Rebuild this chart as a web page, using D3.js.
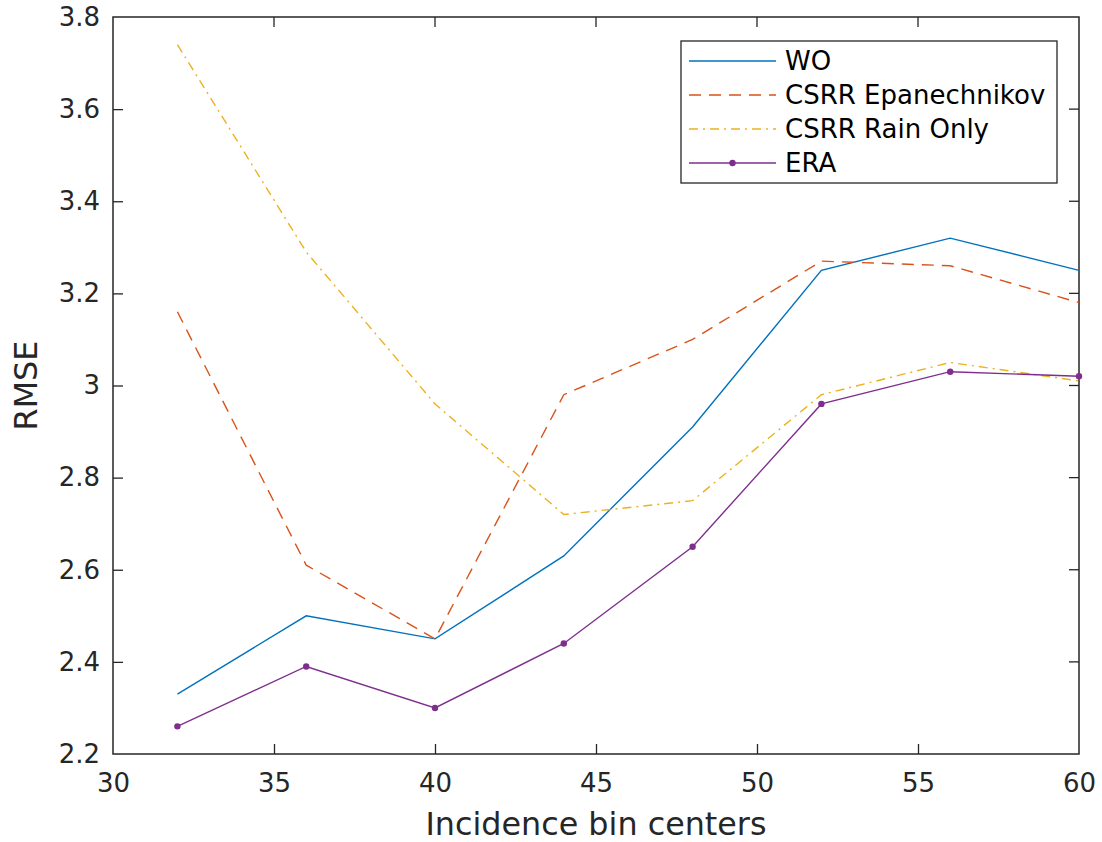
<!DOCTYPE html>
<html>
<head>
<meta charset="utf-8">
<script src="https://cdn.jsdelivr.net/npm/d3@7"></script>
<style>
  body { margin: 0; background: #fff; }
  svg { display: block; font-family: "DejaVu Sans", sans-serif; }
</style>
</head>
<body>
<div id="chart"></div>
<script>
"use strict";

const chtWidth = 1102,
  chtHeight = 842;

const margin = { top: 17, right: 23, bottom: 88, left: 113 };

// Data
const binCenters = [32, 36, 40, 44, 48, 52, 56, 60];
const rmseWO = [2.33, 2.5, 2.45, 2.63, 2.91, 3.25, 3.32, 3.25];
const rmseEpan = [3.16, 2.61, 2.45, 2.98, 3.1, 3.27, 3.26, 3.18];
const rmseRain = [3.74, 3.29, 2.96, 2.72, 2.75, 2.98, 3.05, 3.01];
const rmseERA = [2.26, 2.39, 2.3, 2.44, 2.65, 2.96, 3.03, 3.02];

const xTicks = [30, 35, 40, 45, 50, 55, 60];
const yTicks = [2.2, 2.4, 2.6, 2.8, 3, 3.2, 3.4, 3.6, 3.8];

const seriesNames = ["WO", "CSRR Epanechnikov", "CSRR Rain Only", "ERA"];
const seriesValues = [rmseWO, rmseEpan, rmseRain, rmseERA];
const seriesColors = ["#0072BD", "#D95319", "#EDB120", "#7E2F8E"];
const seriesDash = [null, "12,8", "9,5,2,5", null];
const seriesMarker = [false, false, false, true];

const axisColor = "#262626";

const svg = d3
  .select("#chart")
  .append("svg")
  .attr("width", chtWidth)
  .attr("height", chtHeight);

const x = d3
  .scaleLinear()
  .domain([30, 60])
  .range([margin.left, chtWidth - margin.right]);

const y = d3
  .scaleLinear()
  .domain([2.2, 3.8])
  .range([chtHeight - margin.bottom, margin.top]);

// Axes (ticks pointing inwards, like MATLAB)
const xAxis = svg
  .append("g")
  .attr("transform", `translate(0,${y(2.2)})`)
  .call(d3.axisBottom(x).tickValues(xTicks).tickSizeInner(-10).tickSizeOuter(0).tickPadding(20));

const yAxis = svg
  .append("g")
  .attr("transform", `translate(${x(30)},0)`)
  .call(
    d3
      .axisLeft(y)
      .tickValues(yTicks)
      .tickFormat(d3.format("~g"))
      .tickSizeInner(-10)
      .tickSizeOuter(0)
      .tickPadding(13)
  );

[xAxis, yAxis].forEach((g) => {
  g.selectAll(".domain").remove();
  g.selectAll(".tick line").attr("stroke", axisColor).attr("stroke-width", 1.3);
  g.selectAll(".tick text")
    .attr("fill", axisColor)
    .style("font-size", "26px")
    .style("font-family", "DejaVu Sans, sans-serif");
});
// hide edge tick marks that coincide with the box
xAxis.selectAll(".tick line").filter((d) => d === 30 || d === 60).remove();
yAxis.selectAll(".tick line").filter((d) => d === 2.2 || d === 3.8).remove();

// Right-side ticks
svg
  .append("g")
  .selectAll("line")
  .data(yTicks.slice(1, -1))
  .join("line")
  .attr("x1", x(60))
  .attr("x2", x(60) - 10)
  .attr("y1", (d) => y(d))
  .attr("y2", (d) => y(d))
  .attr("stroke", axisColor)
  .attr("stroke-width", 1.3);

// Top ticks
svg
  .append("g")
  .selectAll("line")
  .data(xTicks.slice(1, -1))
  .join("line")
  .attr("x1", (d) => x(d))
  .attr("x2", (d) => x(d))
  .attr("y1", y(3.8))
  .attr("y2", y(3.8) + 10)
  .attr("stroke", axisColor)
  .attr("stroke-width", 1.3);

// Box
svg
  .append("rect")
  .attr("x", x(30))
  .attr("y", y(3.8))
  .attr("width", x(60) - x(30))
  .attr("height", y(2.2) - y(3.8))
  .attr("fill", "none")
  .attr("stroke", axisColor)
  .attr("stroke-width", 1.5);

// Axis labels
svg
  .append("text")
  .attr("x", (x(30) + x(60)) / 2)
  .attr("y", 835)
  .attr("text-anchor", "middle")
  .attr("fill", axisColor)
  .style("font-size", "31.8px")
  .text("Incidence bin centers");

svg
  .append("text")
  .attr("transform", `translate(37,${(y(2.2) + y(3.8)) / 2}) rotate(-90)`)
  .attr("text-anchor", "middle")
  .attr("fill", axisColor)
  .style("font-size", "31.8px")
  .text("RMSE");

// Lines
const line = d3
  .line()
  .x((d, i) => x(binCenters[i]))
  .y((d) => y(d));

seriesValues.forEach((vals, k) => {
  svg
    .append("path")
    .datum(vals)
    .attr("d", line)
    .attr("fill", "none")
    .attr("stroke", seriesColors[k])
    .attr("stroke-width", 1.4)
    .attr("stroke-dasharray", seriesDash[k]);

  if (seriesMarker[k]) {
    svg
      .append("g")
      .selectAll("circle")
      .data(vals)
      .join("circle")
      .attr("cx", (d, i) => x(binCenters[i]))
      .attr("cy", (d) => y(d))
      .attr("r", 3.2)
      .attr("fill", seriesColors[k]);
  }
});

// Legend
const legend = svg.append("g").attr("transform", "translate(681,41)");

legend
  .append("rect")
  .attr("width", 376)
  .attr("height", 142)
  .attr("fill", "#fff")
  .attr("stroke", axisColor)
  .attr("stroke-width", 1.3);

seriesNames.forEach((name, k) => {
  const ly = 20 + k * 34;
  legend
    .append("line")
    .attr("x1", 8)
    .attr("x2", 95)
    .attr("y1", ly)
    .attr("y2", ly)
    .attr("stroke", seriesColors[k])
    .attr("stroke-width", 1.4)
    .attr("stroke-dasharray", seriesDash[k]);
  if (seriesMarker[k]) {
    legend
      .append("circle")
      .attr("cx", 51.5)
      .attr("cy", ly)
      .attr("r", 3.2)
      .attr("fill", seriesColors[k]);
  }
  legend
    .append("text")
    .attr("x", 104)
    .attr("y", ly)
    .attr("dy", "0.36em")
    .attr("fill", "#000")
    .style("font-size", "26px")
    .text(name);
});
</script>
</body>
</html>
